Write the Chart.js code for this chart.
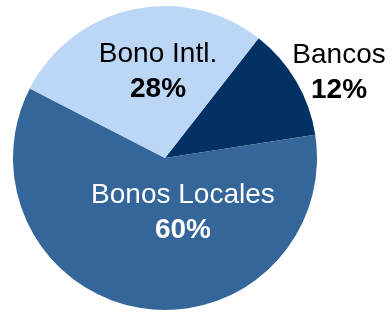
<!DOCTYPE html>
<html>
<head>
<meta charset="utf-8">
<script src="https://cdn.jsdelivr.net/npm/chart.js@4"></script>
<style>
  html, body { margin: 0; padding: 0; background: #fff; }
  #wrap { width: 392px; height: 312px; }
</style>
</head>
<body>
<div id="wrap"><canvas id="pie_chart"></canvas></div>
<script>
"use strict";

// data
var categories = ["Bancos", "Bonos Locales", "Bono Intl."];
var shares = [12, 60, 28];
var percentLabels = ["12%", "60%", "28%"];

var sliceColors = ["#023263", "#346699", "#bcd7f5"];
var textColors = ["#000000", "#ffffff", "#000000"];
// label anchor relative to pie centre, in units of radius (x, first baseline)
var labelAnchor = [[1.145, -0.625], [0.118, 0.296], [-0.046, -0.632]];

/*-- slice labels --*/
var sliceLabels = {
  id: 'sliceLabels',
  afterDatasetsDraw: function (chart) {
    var ctx = chart.ctx;
    var arcs = chart.getDatasetMeta(0).data;
    ctx.save();
    ctx.textAlign = 'center';
    ctx.textBaseline = 'alphabetic';
    arcs.forEach(function (arc, i) {
      var r = arc.outerRadius;
      var x = arc.x + labelAnchor[i][0] * r;
      var y = arc.y + labelAnchor[i][1] * r;
      ctx.fillStyle = textColors[i];
      ctx.font = '28px "Liberation Sans", Arial, sans-serif';
      ctx.fillText(categories[i], x, y);
      ctx.font = 'bold 28px "Liberation Sans", Arial, sans-serif';
      ctx.fillText(percentLabels[i], x, y + 35);
    });
    ctx.restore();
  }
};

new Chart(document.getElementById("pie_chart").getContext("2d"), {
  type: 'pie',
  data: {
    labels: categories,
    datasets: [{
      data: shares,
      backgroundColor: sliceColors,
      borderWidth: 0
    }]
  },
  options: {
    responsive: true,
    maintainAspectRatio: false,
    animation: false,
    rotation: 38,
    layout: { padding: { left: 13, right: 75, top: 6, bottom: 2 } },
    plugins: {
      legend: { display: false },
      tooltip: { enabled: false }
    }
  },
  plugins: [sliceLabels]
});
</script>
</body>
</html>
